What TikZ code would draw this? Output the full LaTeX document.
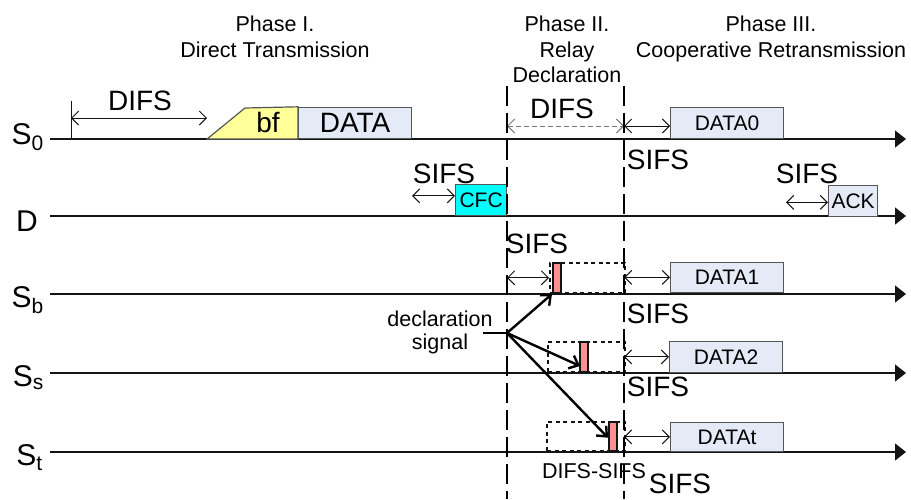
\documentclass[tikz,border=0pt]{standalone}
\usepackage{fontspec}
\setmainfont{Liberation Sans}
\usepackage{tikz}
\usetikzlibrary{arrows.meta,positioning,calc}
\definecolor{cfedge}{RGB}{85,85,85}
\definecolor{cfink}{RGB}{20,20,20}
\definecolor{cfpkt}{RGB}{228,235,247}
\definecolor{cfbf}{RGB}{255,255,153}
\definecolor{cfctl}{RGB}{0,255,255}
\definecolor{cfsig}{RGB}{250,145,145}
\definecolor{cfgray}{RGB}{120,120,120}
\tikzset{
  pkt/.style={
    draw=cfedge, line width=1.2pt, fill=cfpkt, inner sep=0pt,
    anchor=south west, minimum height=31pt, minimum width=113pt,
    font=\fontsize{21}{25}\selectfont
  },
  bigpkt/.style={pkt, font=\fontsize{28}{32}\selectfont},
  ctlpkt/.style={pkt, fill=cfctl, minimum width=51pt},
  ackpkt/.style={pkt, minimum width=49pt},
  slotbox/.style={
    draw=cfink, line width=2.4pt, dash pattern=on 4pt off 3.5pt,
    anchor=south west, inner sep=0pt, minimum height=30pt
  },
  sigbar/.style={
    draw=cfink, line width=1.6pt, fill=cfsig, anchor=south west,
    inner sep=0pt, minimum width=8pt, minimum height=30pt
  },
  tl/.style={draw=cfink, line width=1.5pt, -{Triangle[length=11pt,width=17pt]}},
  gap/.style={
    draw=cfink, line width=1pt,
    {Straight Barb[length=7pt,width=14pt]}-{Straight Barb[length=7pt,width=14pt]}
  },
  gapd/.style={gap, draw=cfgray, dash pattern=on 5pt off 3pt},
  ticklin/.style={draw=cfink, line width=1pt},
  phl/.style={draw=black, line width=2.4pt, dash pattern=on 20pt off 7pt},
  sigln/.style={draw=black, line width=2.4pt},
  sigarr/.style={sigln, -{Straight Barb[length=8pt,width=14pt]}},
  lab/.style={inner sep=0pt, anchor=base, font=\fontsize{28}{32}\selectfont},
  note/.style={lab, align=center, font=\fontsize{21.5}{23}\selectfont},
  phase/.style={inner sep=0pt, anchor=north, align=center, font=\fontsize{21.5}{25.5}\selectfont},
  rowlab/.style={inner sep=0pt, anchor=base east, font=\fontsize{30}{34}\selectfont}
}

\begin{document}
\begin{tikzpicture}[x=1pt, y=-1pt]
  \useasboundingbox (0,0) rectangle (911,499);
  \foreach \n/\y in {s0/139, d/216, sb/294, ss/373, st/452}
    \coordinate (\n) at (50,\y);
  \coordinate (p2) at (507,86);
  \coordinate (p3) at (624,86);
  \foreach \n in {s0, d, sb, ss, st}
    \draw[tl] (\n) -- ++(856,0);

  \node[phase] (ph1) at (275,16) {Phase I.\\Direct Transmission};
  \node[phase] (ph2) at (567,16) {Phase II.\\Relay\\Declaration};
  \node[phase] (ph3) at (771,16) {Phase III.\\Cooperative Retransmission};

  \node[rowlab] (l0) at (44,144) {S\textsubscript{0}};
  \node[rowlab] (ld) at (38,231) {D};
  \node[rowlab] (lb) at (44,307) {S\textsubscript{b}};
  \node[rowlab] (ls) at (44,386) {S\textsubscript{s}};
  \node[rowlab] (lt) at (43,465) {S\textsubscript{t}};

  \node[bigpkt] (data) at (298,139) {DATA};
  \draw[draw=cfedge, line width=1.2pt, fill=cfbf] (data.south west) -- ++(-91,0) coordinate (bfs)
    -- ++(38,-31) -- (data.north west) -- cycle;
  \node[lab] (bf) at (268,132) {bf};
  \node[ctlpkt] (cfc) at (455,216) {CFC};
  \node[ackpkt] (ack) at (828,217) {ACK};
  \node[pkt] (data0) at (670,139) {DATA0};
  \node[pkt, minimum height=30pt] (data1) at (670,293) {DATA1};
  \node[pkt] (data2) at (669,373) {DATA2};
  \node[pkt, minimum height=29pt] (datat) at (670,452) {DATAt};

  \node[slotbox, minimum width=75pt] (slotb) at (549,294) {};
  \node[slotbox, minimum width=77pt] (slots) at (547,373) {};
  \node[slotbox, minimum width=78pt, minimum height=29pt] (slott) at (546,452) {};
  \node[sigbar] (barb) at (552,294) {};
  \node[sigbar] (bars) at (579,373) {};
  \node[sigbar, minimum height=29pt] (bart) at (608,452) {};

  \coordinate (dfa) at (71,118);
  \draw[ticklin] (dfa |- 0,101) -- (dfa |- s0);
  \draw[gap] (dfa) -- (dfa -| bfs);
  \node[lab] (difs0) at (140,110) {DIFS};
  \draw[gap] ([shift={(-43,-4)}]cfc.west) -- ([yshift=4pt]cfc.west);
  \node[lab] (sifsd) at (444,183) {SIFS};

  \coordinate (dfb) at (507,126);
  \draw[gapd] (dfb) -- (dfb -| p3);
  \node[lab] (difs2) at (562,118) {DIFS};
  \draw[gap] (dfb -| p3) -- (dfb -| data0.west);
  \node[lab] (sifs0) at (658,169) {SIFS};
  \draw[gap] ([shift={(-42,1.5)}]ack.west) -- ([yshift=-1.5pt]ack.west);
  \node[lab] (sifsa) at (807,183) {SIFS};

  \draw[gap] (slotb.west -| p2) -- (slotb.west);
  \node[lab] (sifsb1) at (537,253) {SIFS};
  \draw[gap] (data1.west -| p3) -- (data1.west);
  \node[lab] (sifsb2) at (658,323) {SIFS};
  \draw[gap] (data2.west -| p3) -- (data2.west);
  \node[lab] (sifss) at (658,396) {SIFS};
  \draw[gap] (datat.west -| p3) -- (datat.west);
  \node[note] (dsifs) at (594,478) {DIFS-SIFS};
  \node[lab] (sifst) at (680,493) {SIFS};

  \node[note, anchor=north] (decl) at (440,311) {declaration\\signal};
  \coordinate (dsa) at (483,333);
  \coordinate (dsb) at (507,333);
  \draw[sigln] (dsa) -- (dsb);
  \draw[sigarr] (dsb) -- (barb.south west);
  \draw[sigarr] (dsb) -- ($(bars.south west)+(1,-7)$);
  \draw[sigarr] (dsb) -- ($(bart.west)+(0,1)$);

  \draw[phl] (p2) -- (p2 |- 0,499);
  \draw[phl] (p3) -- (p3 |- 0,499);
\end{tikzpicture}
\end{document}
